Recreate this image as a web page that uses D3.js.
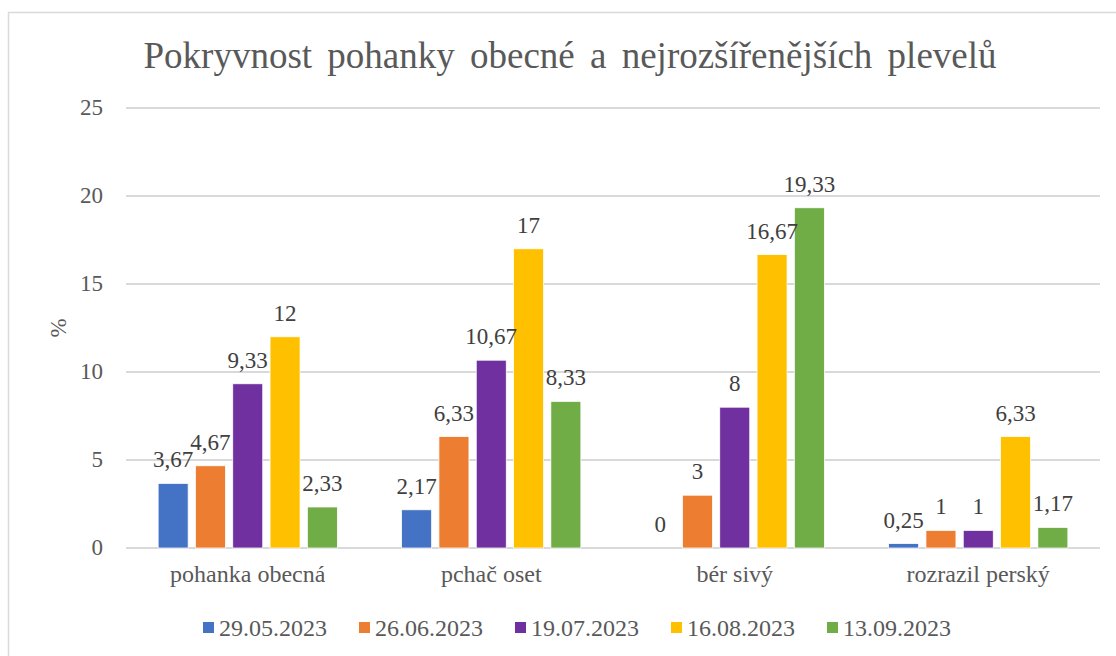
<!DOCTYPE html>
<html>
<head>
<meta charset="utf-8">
<script src="https://cdn.jsdelivr.net/npm/d3@7"></script>
</head>
<body style="margin:0">
<svg id="chart" width="1116" height="656"></svg>
<script>
const title = 'Pokryvnost pohanky obecn\u00e9 a nejroz\u0161\u00ed\u0159en\u011bj\u0161\u00edch plevel\u016f';
const categories = ['pohanka obecn\u00e1', 'pcha\u010d oset', 'b\u00e9r siv\u00fd', 'rozrazil persk\u00fd'];
const dates = ['29.05.2023', '26.06.2023', '19.07.2023', '16.08.2023', '13.09.2023'];
const colors = ['#4472C4', '#ED7D31', '#7030A0', '#FFC000', '#70AD47'];
// one array per date, values per category
const s29_05 = [3.67, 2.17, 0, 0.25];
const s26_06 = [4.67, 6.33, 3, 1];
const s19_07 = [9.33, 10.67, 8, 1];
const s16_08 = [12, 17, 16.67, 6.33];
const s13_09 = [2.33, 8.33, 19.33, 1.17];
const series = [s29_05, s26_06, s19_07, s16_08, s13_09];
const yTicks = [0, 5, 10, 15, 20, 25];

const FONT = "'Liberation Serif', 'DejaVu Serif', serif";
const svg = d3.select('#chart');
const margin = {top: 108, right: 16, bottom: 108, left: 126};
const width = 1116 - margin.left - margin.right;
const height = 656 - margin.top - margin.bottom;

// chart frame (right and bottom edges fall outside the picture)
svg.append('path')
  .attr('d', 'M8.5,656V12.5H1116')
  .attr('fill', 'none')
  .attr('stroke', '#d9d9d9')
  .attr('stroke-width', 1.5);

svg.append('text')
  .attr('x', 570).attr('y', 68)
  .attr('text-anchor', 'middle')
  .style('font-family', FONT)
  .style('font-size', '37px')
  .style('word-spacing', '6px')
  .style('fill', '#595959')
  .text(title);

const g = svg.append('g')
  .attr('transform', 'translate(' + margin.left + ',' + margin.top + ')');

const y = d3.scaleLinear().domain([0, 25]).range([height, 0]);
const x0 = d3.scaleBand().domain(categories).range([0, width])
  .paddingInner(0.264).paddingOuter(0.132);
const x1 = d3.scaleBand().domain(d3.range(dates.length)).range([0, x0.bandwidth()])
  .paddingInner(0.196);

// gridlines
g.selectAll('.grid')
  .data(yTicks)
  .enter().append('line')
  .attr('class', 'grid')
  .attr('x1', 0).attr('x2', width)
  .attr('y1', (d) => y(d)).attr('y2', (d) => y(d))
  .attr('stroke', '#d9d9d9')
  .attr('stroke-width', 2);

// y tick labels
g.selectAll('.ytick')
  .data(yTicks)
  .enter().append('text')
  .attr('class', 'ytick')
  .attr('x', -23)
  .attr('y', (d) => y(d))
  .attr('dy', '0.32em')
  .attr('text-anchor', 'end')
  .style('font-family', FONT)
  .style('font-size', '23px')
  .style('fill', '#595959')
  .text((d) => d);

// category labels
g.selectAll('.xtick')
  .data(categories)
  .enter().append('text')
  .attr('class', 'xtick')
  .attr('x', (d) => x0(d) + x0.bandwidth() / 2)
  .attr('y', height + 34)
  .attr('text-anchor', 'middle')
  .style('font-family', FONT)
  .style('font-size', '24px')
  .style('fill', '#595959')
  .text((d) => d);

svg.append('text')
  .attr('transform', 'translate(66,328) rotate(-90)')
  .attr('text-anchor', 'middle')
  .style('font-family', FONT)
  .style('font-size', '23px')
  .style('fill', '#595959')
  .text('%');

const fmt = (v) => String(v).replace('.', ',');

const groups = g.selectAll('.group')
  .data(categories)
  .enter().append('g')
  .attr('class', 'group')
  .attr('transform', (d) => 'translate(' + x0(d) + ',0)');

groups.selectAll('rect')
  .data((d, i) => series.map((s, k) => ({k: k, v: s[i]})))
  .enter().append('rect')
  .attr('x', (d) => x1(d.k))
  .attr('width', x1.bandwidth())
  .attr('y', (d) => y(d.v))
  .attr('height', (d) => height - y(d.v))
  .attr('fill', (d) => colors[d.k])
  .attr('stroke', '#fff')
  .attr('stroke-width', 0.75);

groups.selectAll('.label')
  .data((d, i) => series.map((s, k) => ({k: k, v: s[i]})))
  .enter().append('text')
  .attr('class', 'label')
  .attr('x', (d) => x1(d.k) + x1.bandwidth() / 2)
  .attr('y', (d) => y(d.v) - 16)
  .attr('text-anchor', 'middle')
  .style('font-family', FONT)
  .style('font-size', '23px')
  .style('fill', '#404040')
  .text((d) => fmt(d.v));

// legend
const legend = svg.selectAll('.legend')
  .data(dates)
  .enter().append('g')
  .attr('class', 'legend')
  .attr('transform', (d, i) => 'translate(' + (203 + i * 156) + ',622)');
legend.append('rect')
  .attr('width', 11).attr('height', 11)
  .attr('fill', (d, i) => colors[i]);
legend.append('text')
  .attr('x', 16).attr('y', 14)
  .style('font-family', FONT)
  .style('font-size', '24px')
  .style('fill', '#595959')
  .text((d) => d);
</script>
</body>
</html>
